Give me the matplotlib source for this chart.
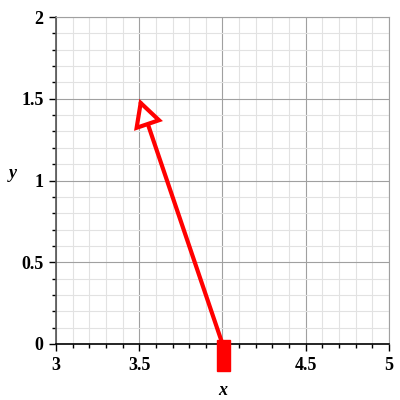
import matplotlib
matplotlib.use("Agg")
import matplotlib.pyplot as plt
from matplotlib.patches import FancyArrowPatch, Rectangle
import matplotlib.transforms as mtransforms
import numpy as np

# vector from (4, 0) to (3.5, 1.5)
tail = (4.0, 0.0)
head = (3.5, 1.5)

xticks = [3, 3.5, 4, 4.5, 5]
xticklabels = ["3", "3.5", "", "4.5", "5"]
yticks = [0, 0.5, 1, 1.5, 2]
yticklabels = ["0", "0.5", "1", "1.5", "2"]

plt.rcParams['font.family'] = ['Liberation Serif', 'DejaVu Serif']

fig = plt.figure(figsize=(4, 4), dpi=100)
ax = fig.add_axes([0.14, 0.14, 0.8325, 0.8175])
ax.set_xlim(3, 5)
ax.set_ylim(0, 2)

ax.set_xticks(xticks)
ax.set_xticklabels(xticklabels, fontweight='bold', fontsize=13)
ax.set_yticks(yticks)
ax.set_yticklabels(yticklabels, fontweight='bold', fontsize=13)
ax.set_xticks(np.arange(3, 5.01, 0.1), minor=True)
ax.set_yticks(np.arange(0, 2.01, 0.1), minor=True)

ax.grid(which='major', color='#a0a0a0', linewidth=0.8)
ax.grid(which='minor', color='#e2e2e2', linewidth=0.8)
ax.set_axisbelow(True)

ax.tick_params(which='major', length=5, width=1, color='black', pad=4)
ax.tick_params(which='minor', length=3, width=1, color='black')

for side in ['top', 'right']:
    ax.spines[side].set_color('#a0a0a0')
    ax.spines[side].set_linewidth(0.8)
ax.spines['bottom'].set_color('black')
ax.spines['bottom'].set_linewidth(1.2)
ax.spines['left'].set_color('#555555')
ax.spines['left'].set_linewidth(1.2)

ax.set_xlabel("x", fontstyle='italic', fontweight='bold', fontsize=13, labelpad=6)
ax.set_ylabel("y", fontstyle='italic', fontweight='bold', fontsize=13, rotation=0)
ax.yaxis.set_label_coords(-0.13, 0.495)

arrow = FancyArrowPatch(tail, head, arrowstyle='-|>,head_length=1.6,head_width=0.85',
                        mutation_scale=10, lw=3, facecolor='white',
                        edgecolor='red', shrinkA=0, shrinkB=0, clip_on=False,
                        zorder=5, joinstyle='miter')
ax.add_patch(arrow)

# red block at the tail, hanging below the axis
trans = mtransforms.blended_transform_factory(ax.transData, fig.transFigure)
ax.add_patch(Rectangle((tail[0] - 0.035, 0.0725), 0.078, 0.0775, transform=trans,
                       color='red', clip_on=False, zorder=6))

fig.savefig("out.png", dpi=100)
